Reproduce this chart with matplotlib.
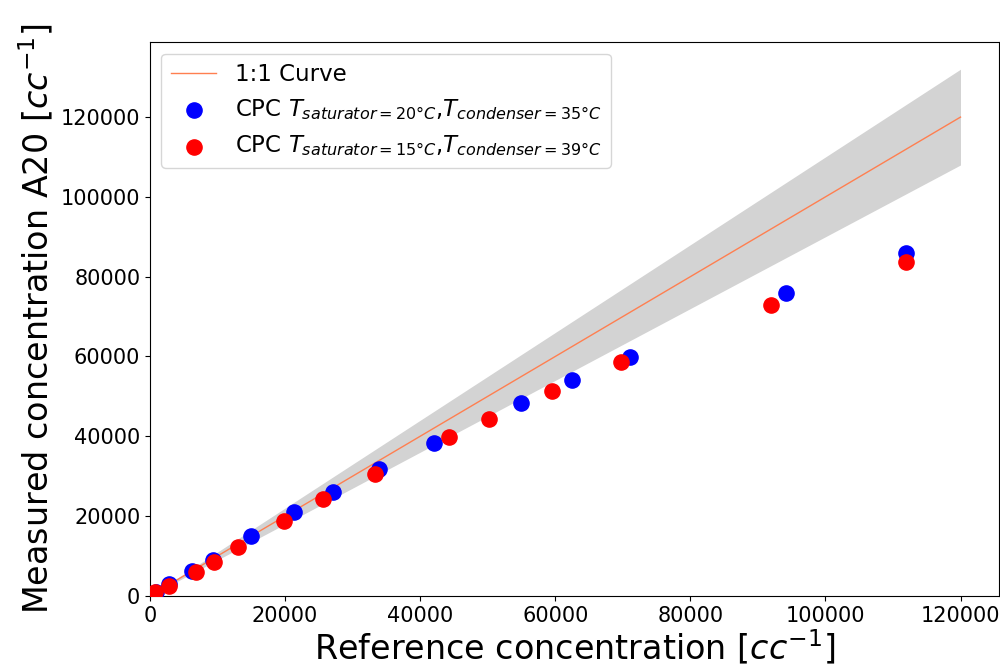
import numpy as np
import matplotlib
matplotlib.use("Agg")
import matplotlib.pyplot as plt

# 1:1 reference curve
curve_x = [0, 120000]
band_frac = 0.10

# CPC T_sat=20C, T_cond=35C (blue)
blue_ref = [900, 2860, 6270, 9270, 14960, 21380, 27060, 33930, 42070, 54960, 62520, 71110, 94120, 112000]
blue_meas = [950, 3010, 6350, 9040, 14900, 21090, 26030, 31800, 38330, 48300, 53980, 59920, 75820, 85870]

# CPC T_sat=15C, T_cond=39C (red)
red_ref = [740, 2860, 6810, 9480, 13090, 19850, 25630, 33280, 44240, 50160, 59460, 69700, 91950, 112000]
red_meas = [1000, 2590, 6100, 8610, 12130, 18830, 24270, 30550, 39740, 44360, 51390, 58670, 72980, 83780]

fig = plt.figure(figsize=(10, 6.68), dpi=100)
ax = fig.add_axes([0.15, 0.108, 0.849, 0.829])

cx = np.array(curve_x, dtype=float)
ax.fill_between(cx, cx * (1 - band_frac), cx * (1 + band_frac), color="lightgray", lw=0, zorder=1)
ax.plot(cx, cx, color="coral", lw=1, label="1:1 Curve", zorder=2)
ax.scatter(blue_ref, blue_meas, s=120, color="blue", zorder=3,
           label=r"CPC $T_{saturator=20°C}$,$T_{condenser=35°C}$")
ax.scatter(red_ref, red_meas, s=120, color="red", zorder=4,
           label=r"CPC $T_{saturator=15°C}$,$T_{condenser=39°C}$")

ax.set_xlim(0, 125700)
ax.set_ylim(0, 138800)
ax.set_xticks([0, 20000, 40000, 60000, 80000, 100000, 120000])
ax.set_yticks([0, 20000, 40000, 60000, 80000, 100000, 120000])
ax.tick_params(labelsize=15)
ax.set_xlabel(r"Reference concentration [$cc^{-1}$]", fontsize=24, labelpad=1)
ax.set_ylabel(r"Measured concentration A20 [$cc^{-1}$]", fontsize=24)
ax.legend(loc="upper left", fontsize=16.5)

fig.savefig("out.png", dpi=100)
